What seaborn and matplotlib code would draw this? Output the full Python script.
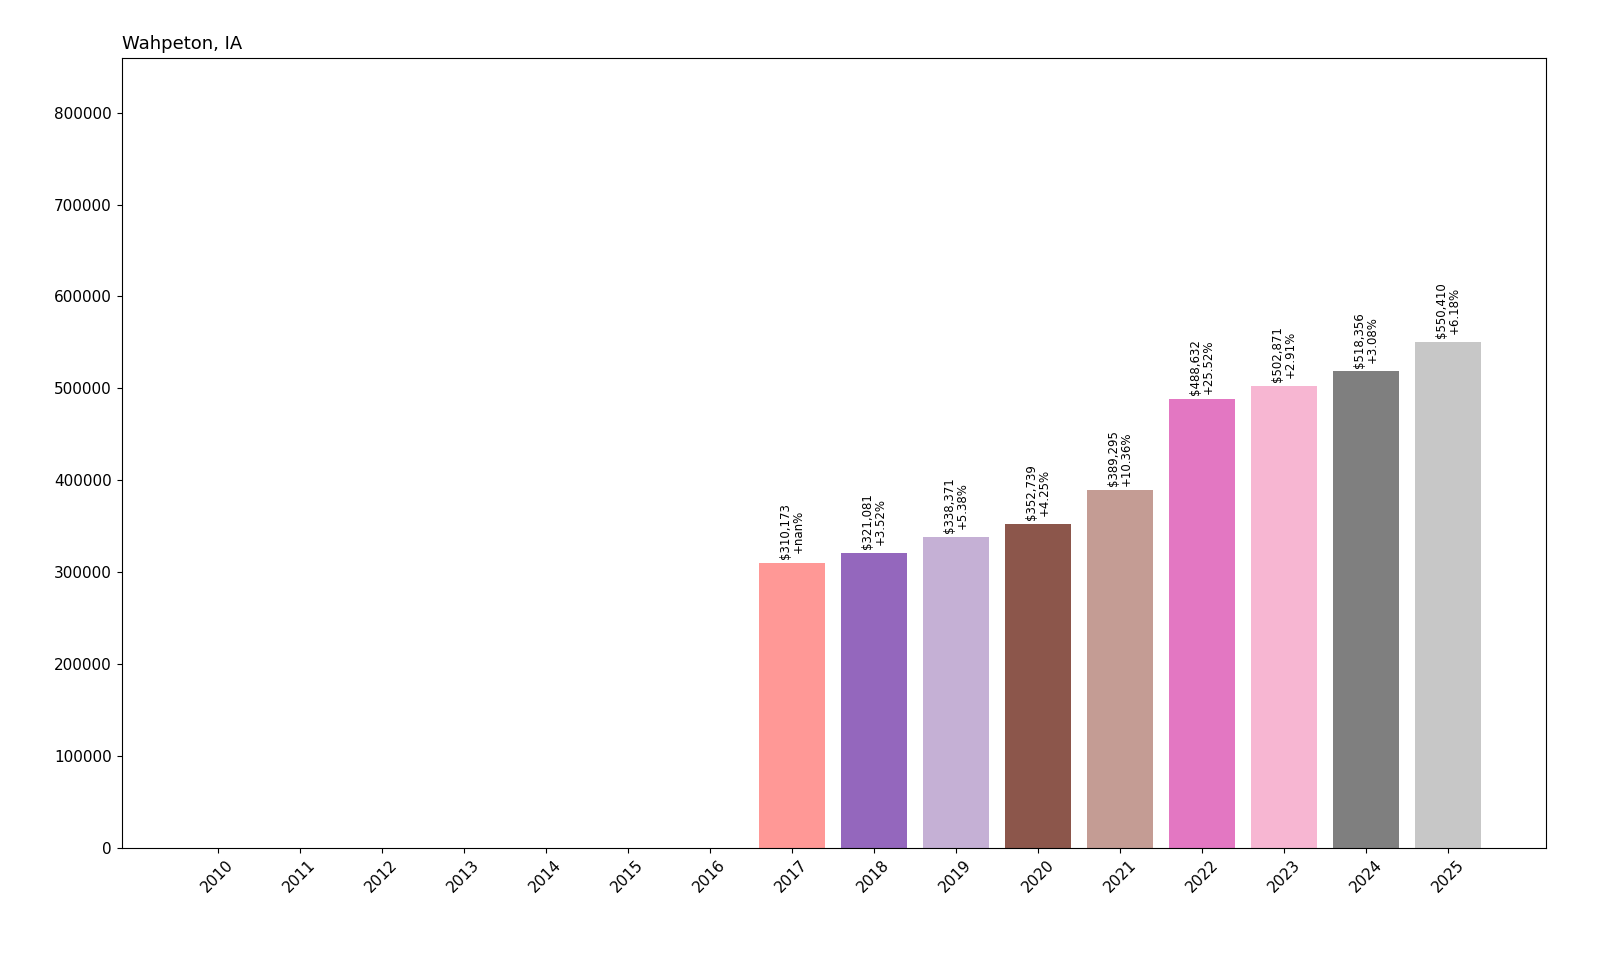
import matplotlib
matplotlib.use("Agg")
import matplotlib.pyplot as plt
import seaborn as sns
import numpy as np
import pandas as pd

years = [str(y) for y in range(2010, 2026)]
values = [0, 0, 0, 0, 0, 0, 0, 310173, 321081, 338371, 352739, 389295, 488632, 502871, 518356, 550410]
pct_labels = ["", "", "", "", "", "", "", "+nan%", "+3.52%", "+5.38%", "+4.25%", "+10.36%", "+25.52%", "+2.91%", "+3.08%", "+6.18%"]

df = pd.DataFrame({"year": years, "value": values})
palette = sns.color_palette("tab20", len(years))

fig, ax = plt.subplots(figsize=(16, 9.6), dpi=100)
fig.subplots_adjust(left=0.076, right=0.966, top=0.94, bottom=0.117)
sns.barplot(data=df, x="year", y="value", hue="year", palette=palette, legend=False,
            saturation=1, ax=ax)
ax.set_xlim(-1.17, len(years) - 1 + 1.19)
ax.set_ylim(0, 860000)
ax.set_xlabel("")
ax.set_ylabel("")
ax.set_title("Wahpeton, IA", loc="left", fontsize=13)
ax.tick_params(axis="x", rotation=45, labelsize=11)
ax.tick_params(axis="y", labelsize=11)
for i, (v, p) in enumerate(zip(values, pct_labels)):
    if v > 0:
        ax.text(i, v + 4000, f"${v:,}\n{p}", rotation=90, ha="center", va="bottom", fontsize=8.5, linespacing=1.0)
fig.savefig("out.png")
